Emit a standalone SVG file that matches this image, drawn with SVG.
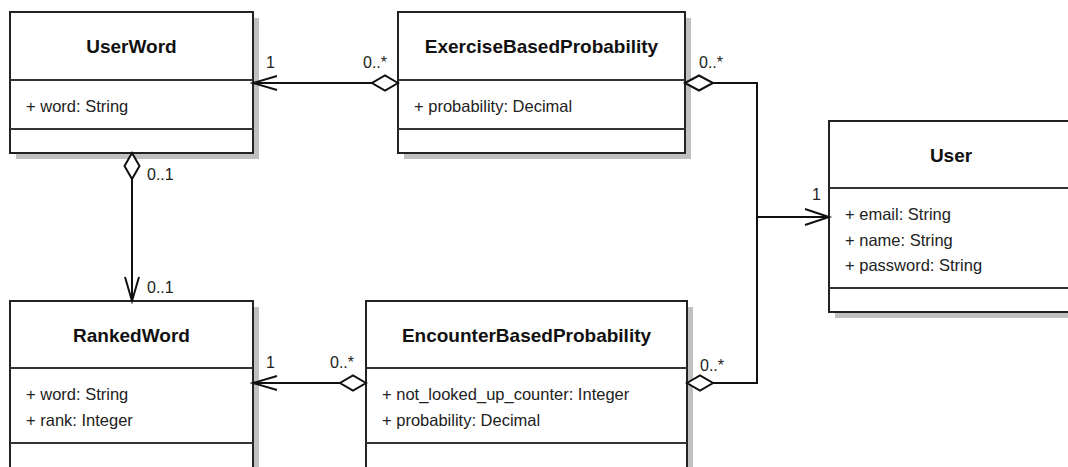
<svg xmlns="http://www.w3.org/2000/svg" width="1068" height="467" viewBox="0 0 1068 467">
<style>
.sh{fill:#c0c0c0;stroke:none}
.box{fill:#fff;stroke:#222;stroke-width:2}
.sep{stroke:#333;stroke-width:2}
.title{font-family:"Liberation Sans",Arial,sans-serif;font-size:19px;font-weight:bold;fill:#111;text-anchor:middle}
.attr{font-family:"Liberation Sans",Arial,sans-serif;font-size:16.5px;fill:#222}
.lbl{font-family:"Liberation Sans",Arial,sans-serif;font-size:16px;fill:#222}
.ln{fill:none;stroke:#111;stroke-width:2}
.dia{fill:#fff;stroke:#111;stroke-width:2}
</style>
<rect width="1068" height="467" fill="#fff"/>
<g id="UserWord">
<rect class="sh" x="16" y="18" width="243" height="141"/>
<rect class="box" x="10" y="12" width="243" height="141"/>
<line class="sep" x1="10" y1="80" x2="253" y2="80"/>
<line class="sep" x1="10" y1="129" x2="253" y2="129"/>
<text class="title" x="131.5" y="53">UserWord</text>
<text class="attr" x="26" y="111.5">+ word: String</text>
</g>
<g id="ExerciseBasedProbability">
<rect class="sh" x="404" y="18" width="287" height="141"/>
<rect class="box" x="398" y="12" width="287" height="141"/>
<line class="sep" x1="398" y1="80" x2="685" y2="80"/>
<line class="sep" x1="398" y1="129" x2="685" y2="129"/>
<text class="title" x="541.5" y="53">ExerciseBasedProbability</text>
<text class="attr" x="414" y="111.5">+ probability: Decimal</text>
</g>
<g id="User">
<rect class="sh" x="835" y="127" width="250" height="191"/>
<rect class="box" x="829" y="121" width="250" height="191"/>
<line class="sep" x1="829" y1="188" x2="1079" y2="188"/>
<line class="sep" x1="829" y1="288" x2="1079" y2="288"/>
<text class="title" x="951" y="161.5">User</text>
<text class="attr" x="845" y="220">+ email: String</text>
<text class="attr" x="845" y="245.5">+ name: String</text>
<text class="attr" x="845" y="271">+ password: String</text>
</g>
<g id="RankedWord">
<rect class="sh" x="16" y="307" width="243" height="170"/>
<rect class="box" x="10" y="301" width="243" height="170"/>
<line class="sep" x1="10" y1="368" x2="253" y2="368"/>
<line class="sep" x1="10" y1="443" x2="253" y2="443"/>
<text class="title" x="131.5" y="342">RankedWord</text>
<text class="attr" x="26" y="400">+ word: String</text>
<text class="attr" x="26" y="425.5">+ rank: Integer</text>
</g>
<g id="EncounterBasedProbability">
<rect class="sh" x="372" y="307" width="321" height="170"/>
<rect class="box" x="366" y="301" width="321" height="170"/>
<line class="sep" x1="366" y1="368" x2="687" y2="368"/>
<line class="sep" x1="366" y1="443" x2="687" y2="443"/>
<text class="title" x="526.5" y="342">EncounterBasedProbability</text>
<text class="attr" x="382" y="400">+ not_looked_up_counter: Integer</text>
<text class="attr" x="382" y="425.5">+ probability: Decimal</text>
</g>
<g id="connectors">
<line class="ln" x1="253" y1="83" x2="372" y2="83"/>
<polyline class="ln" points="277,76 253,83 277,90"/>
<polygon class="dia" points="398,83 385,75.5 372,83 385,90.5"/>
<text class="lbl" x="266" y="68">1</text>
<text class="lbl" x="363" y="68">0..*</text>
<line class="ln" x1="132" y1="179" x2="132" y2="301"/>
<polygon class="dia" points="132,153 124.5,166 132,179 139.5,166"/>
<polyline class="ln" points="125,277 132,301 139,277"/>
<text class="lbl" x="147" y="180">0..1</text>
<text class="lbl" x="147" y="293">0..1</text>
<line class="ln" x1="253" y1="383" x2="340" y2="383"/>
<polyline class="ln" points="277,376 253,383 277,390"/>
<polygon class="dia" points="366,383 353,375.5 340,383 353,390.5"/>
<text class="lbl" x="266" y="368">1</text>
<text class="lbl" x="330" y="368">0..*</text>
<polyline class="ln" points="713,83 757,83 757,383 713,383"/>
<polygon class="dia" points="685,83 699,75.5 713,83 699,90.5"/>
<polygon class="dia" points="687,383 700,375.5 713,383 700,390.5"/>
<line class="ln" x1="757" y1="217" x2="829" y2="217"/>
<polyline class="ln" points="805,209 829,217 805,225"/>
<text class="lbl" x="699" y="68">0..*</text>
<text class="lbl" x="700" y="371">0..*</text>
<text class="lbl" x="812" y="200">1</text>
</g>
</svg>
